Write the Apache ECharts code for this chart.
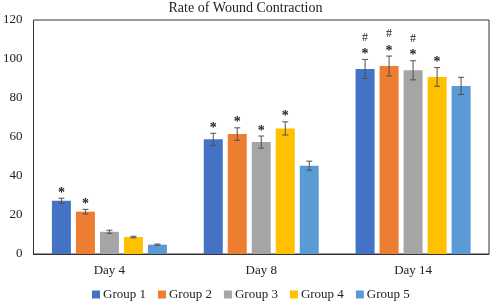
<!DOCTYPE html>
<html>
<head>
<meta charset="utf-8">
<script src="https://cdn.jsdelivr.net/npm/echarts@6/dist/echarts.min.js"></script>
<style>
  html, body { margin: 0; padding: 0; background: #fff; }
  #chart { width: 491px; height: 302px; }
</style>
</head>
<body>
<div id="chart"></div>
<script>
const days = ['Day 4', 'Day 8', 'Day 14'];
const groups = ['Group 1', 'Group 2', 'Group 3', 'Group 4', 'Group 5'];

// mean values per group, one entry per day
const group1 = [27.3, 58.8, 94.9];
const group2 = [21.7, 61.5, 96.4];
const group3 = [11.4, 57.4, 94.2];
const group4 = [8.7, 64.4, 90.8];
const group5 = [4.8, 45.3, 86.2];

// error (± SD) per group
const err1 = [1.3, 3.1, 4.9];
const err2 = [1.2, 3.2, 5.1];
const err3 = [0.8, 3.1, 4.9];
const err4 = [0.4, 3.4, 4.8];
const err5 = [0.3, 2.3, 4.4];

// significance marks above each bar
const marks1 = ['*', '*', '#*'];
const marks2 = ['*', '*', '#*'];
const marks3 = ['', '*', '#*'];
const marks4 = ['', '*', '*'];
const marks5 = ['', '', ''];

const yTicks = [0, 20, 40, 60, 80, 100, 120];

const colors = ['#4472C4', '#ED7D31', '#A5A5A5', '#FFC000', '#5B9BD5'];
const values = [group1, group2, group3, group4, group5];
const errors = [err1, err2, err3, err4, err5];
const marks = [marks1, marks2, marks3, marks4, marks5];

const BAR_W = 19;
const BAR_STEP = 24;
const serif = 'Liberation Serif';

const errData = [];
values.forEach((vals, g) => {
  vals.forEach((v, d) => {
    errData.push([d, v, errors[g][d], g, marks[g][d]]);
  });
});

const barSeries = groups.map((name, g) => ({
  name: name,
  type: 'bar',
  data: values[g],
  barWidth: BAR_W,
  barGap: ((BAR_STEP - BAR_W) / BAR_W * 100) + '%',
  itemStyle: { color: colors[g] },
}));

const errSeries = {
  type: 'custom',
  silent: true,
  z: 10,
  data: errData,
  renderItem: (params, api) => {
    const d = api.value(0);
    const v = api.value(1);
    const e = api.value(2);
    const g = api.value(3);
    const mark = errData[params.dataIndex][4];
    const dx = (g - 2) * BAR_STEP;
    const hi = api.coord([d, v + e]);
    const lo = api.coord([d, v - e]);
    const x = hi[0] + dx;
    const cap = 3;
    const style = { stroke: '#505050', lineWidth: 1 };
    const children = [
      { type: 'line', shape: { x1: x, y1: hi[1], x2: x, y2: lo[1] }, style },
      { type: 'line', shape: { x1: x - cap, y1: hi[1], x2: x + cap, y2: hi[1] }, style },
      { type: 'line', shape: { x1: x - cap, y1: lo[1], x2: x + cap, y2: lo[1] }, style },
    ];
    if (mark.indexOf('*') >= 0) {
      children.push({
        type: 'text',
        style: {
          text: '*', x: x, y: hi[1] + 2,
          fill: '#222', font: 'bold 14px ' + serif,
          textAlign: 'center', textVerticalAlign: 'bottom',
        },
      });
    }
    if (mark.indexOf('#') >= 0) {
      children.push({
        type: 'text',
        style: {
          text: '#', x: x, y: hi[1] - 16,
          fill: '#222', font: '12px ' + serif,
          textAlign: 'center', textVerticalAlign: 'bottom',
        },
      });
    }
    return { type: 'group', children };
  },
};

const option = {
  animation: false,
  backgroundColor: '#fff',
  title: {
    text: 'Rate of Wound Contraction',
    left: 'center',
    top: -4,
    textStyle: { fontFamily: serif, fontSize: 14, fontWeight: 'normal', color: '#222' },
  },
  legend: {
    data: groups,
    top: 288,
    left: 92,
    itemWidth: 8,
    itemHeight: 8,
    itemGap: 12,
    padding: 0,
    icon: 'rect',
    textStyle: { fontFamily: serif, fontSize: 13, color: '#222', padding: [0, 0, 0, -2] },
  },
  grid: {
    left: 29, right: 2, top: 20, bottom: 48,
    show: true, borderColor: '#333', borderWidth: 1,
  },
  xAxis: {
    type: 'category',
    data: days,
    axisTick: { show: false },
    axisLine: { lineStyle: { color: '#333' } },
    axisLabel: { fontFamily: serif, fontSize: 13, color: '#222', margin: 10 },
  },
  yAxis: {
    type: 'value',
    min: yTicks[0],
    max: yTicks[yTicks.length - 1],
    interval: yTicks[1] - yTicks[0],
    splitLine: { show: false },
    axisLine: { show: false },
    axisLabel: { fontFamily: serif, fontSize: 13, color: '#222', margin: 11 },
  },
  series: [...barSeries, errSeries],
};

const chart = echarts.init(document.getElementById('chart'));
chart.setOption(option);
</script>
</body>
</html>
